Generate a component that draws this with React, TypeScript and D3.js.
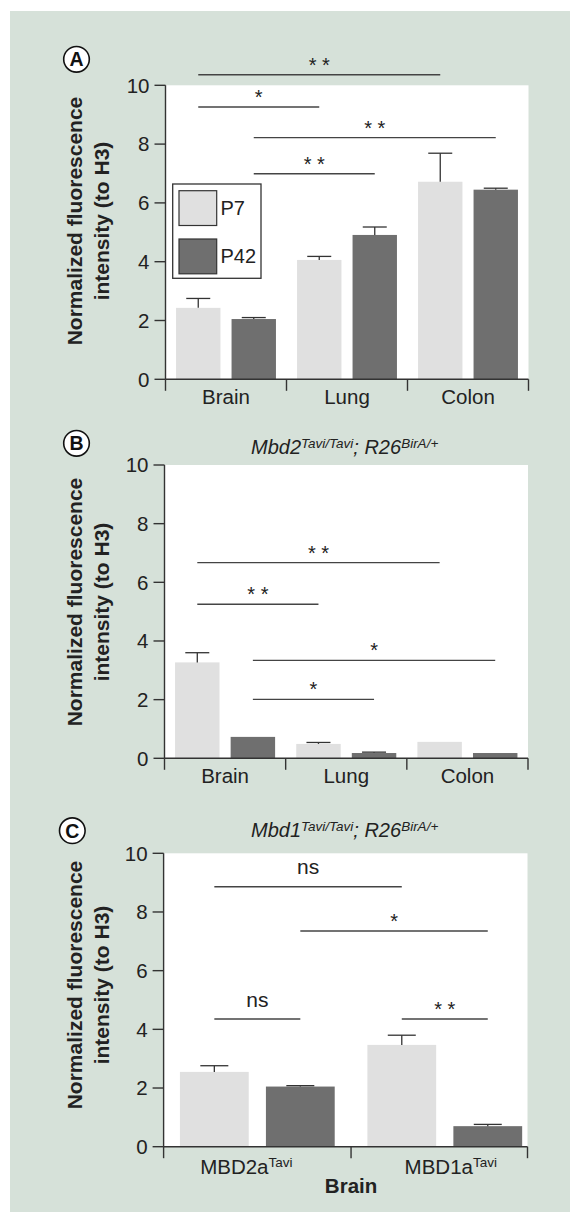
import React from "react";
import * as d3 from "d3";

// ---------- data ----------
const tickValues = [0, 2, 4, 6, 8, 10];
const seriesNames = ["P7", "P42"];

const catsA = ["Brain", "Lung", "Colon"];
const p7A = [2.43, 4.06, 6.72];
const p7ErrA = [0.32, 0.12, 0.97];
const p42A = [2.05, 4.91, 6.45];
const p42ErrA = [0.05, 0.27, 0.05];

const catsB = ["Brain", "Lung", "Colon"];
const p7B = [3.27, 0.49, 0.56];
const p7ErrB = [0.33, 0.05, 0];
const p42B = [0.73, 0.18, 0.18];
const p42ErrB = [0, 0.03, 0];

const catsC = ["MBD2a", "MBD1a"];
const catSupC = "Tavi";
const p7C = [2.55, 3.47];
const p7ErrC = [0.21, 0.33];
const p42C = [2.05, 0.7];
const p42ErrC = [0.03, 0.06];

// significance brackets: from [group, series] to [group, series] at value level
const sigA = [
  { a: [0, 0], b: [2, 0], level: 10.36, label: "* *" },
  { a: [0, 0], b: [1, 0], level: 9.26, label: "*" },
  { a: [0, 1], b: [2, 1], level: 8.22, label: "* *" },
  { a: [0, 1], b: [1, 1], level: 6.99, label: "* *" },
];
const sigB = [
  { a: [0, 0], b: [2, 0], level: 6.67, label: "* *" },
  { a: [0, 0], b: [1, 0], level: 5.25, label: "* *" },
  { a: [0, 1], b: [2, 1], level: 3.34, label: "*" },
  { a: [0, 1], b: [1, 1], level: 2.01, label: "*" },
];
const sigC = [
  { a: [0, 0], b: [1, 0], level: 8.86, label: "ns" },
  { a: [0, 1], b: [1, 1], level: 7.35, label: "*" },
  { a: [0, 0], b: [0, 1], level: 4.35, label: "ns" },
  { a: [1, 0], b: [1, 1], level: 4.35, label: "* *" },
];

const titleB = { gene: "Mbd2", geneSup: "Tavi/Tavi", rest: "; R26", restSup: "BirA/+" };
const titleC = { gene: "Mbd1", geneSup: "Tavi/Tavi", rest: "; R26", restSup: "BirA/+" };
const xTitleC = "Brain";
const yTitleLines = ["Normalized fluorescence", "intensity (to H3)"];

// ---------- style ----------
const FONT = "'Liberation Sans', Arial, Helvetica, sans-serif";
const BG = "#d6e1d9";
const COL_P7 = "#e0e0e0";
const COL_P42 = "#6f6f6f";
const INK = "#222";
const AXIS = "#333";
const SIGLINE = "#444";

type Sig = { a: number[]; b: number[]; level: number; label: string };

function Panel(props: any) {
  const {
    x0, xEnd, bandEnd, yTopPx, yZeroPx, cats, sup, p7, p7Err, p42, p42Err, sigs,
    capW, circle, yTitleCenter, title, catDy, catOffsets, xTitle, legend,
  } = props;

  const y = d3.scaleLinear().domain([0, 10]).range([yZeroPx, yTopPx]);
  const xg = d3.scaleBand<number>().domain(d3.range(cats.length)).range([x0, bandEnd]).paddingInner(0).paddingOuter(0);
  const xs = d3.scaleBand<number>().domain([0, 1]).range([0, xg.bandwidth()]).paddingInner(0.2).paddingOuter(0.19);

  const vals = [p7, p42];
  const errs = [p7Err, p42Err];
  const cols = [COL_P7, COL_P42];
  const barCenter = (g: number, s: number) => (xg(g) as number) + (xs(s) as number) + xs.bandwidth() / 2;

  const xTicks = [...d3.range(cats.length).map((g) => xg(g) as number), xEnd];

  return (
    <g>
      {/* plot area */}
      <rect x={x0} y={yTopPx} width={xEnd - x0} height={yZeroPx - yTopPx} fill="#fff" />
      {/* bars */}
      {cats.map((c: string, g: number) =>
        [0, 1].map((s) => {
          const v = vals[s][g];
          const bx = (xg(g) as number) + (xs(s) as number);
          return (
            <rect key={`b${g}-${s}`} x={bx} y={y(v)} width={xs.bandwidth()} height={y(0) - y(v)} fill={cols[s]} />
          );
        })
      )}
      {/* error bars */}
      {cats.map((c: string, g: number) =>
        [0, 1].map((s) => {
          const v = vals[s][g];
          const e = errs[s][g];
          if (!e) return null;
          const cx = barCenter(g, s);
          return (
            <g key={`e${g}-${s}`} stroke={AXIS} strokeWidth={1.3}>
              <line x1={cx} x2={cx} y1={y(v)} y2={y(v + e)} />
              <line x1={cx - capW / 2} x2={cx + capW / 2} y1={y(v + e)} y2={y(v + e)} />
            </g>
          );
        })
      )}
      {/* y axis */}
      <line x1={x0} x2={x0} y1={yTopPx} y2={yZeroPx} stroke={AXIS} strokeWidth={1.4} />
      {tickValues.map((t) => (
        <g key={`yt${t}`}>
          <line x1={x0 - 11} x2={x0} y1={y(t)} y2={y(t)} stroke={AXIS} strokeWidth={1.4} />
          <text x={x0 - 16} y={y(t)} dy="0.36em" textAnchor="end" fontSize={20.5} fill={INK} fontFamily={FONT}>
            {t}
          </text>
        </g>
      ))}
      {/* x axis */}
      <line x1={x0} x2={xEnd} y1={yZeroPx} y2={yZeroPx} stroke={AXIS} strokeWidth={1.4} />
      {xTicks.map((t, i) => (
        <line key={`xt${i}`} x1={t} x2={t} y1={yZeroPx} y2={yZeroPx + 11.5} stroke={AXIS} strokeWidth={1.4} />
      ))}
      {cats.map((c: string, g: number) => (
        <text
          key={`cl${g}`}
          x={(xg(g) as number) + xg.bandwidth() / 2 + (catOffsets ? catOffsets[g] : 0)}
          y={yZeroPx + catDy}
          textAnchor="middle"
          fontSize={20.5}
          fill={INK}
          fontFamily={FONT}
        >
          {c}
          {sup ? (
            <tspan fontSize={13.5} dy={-7}>
              {sup}
            </tspan>
          ) : null}
        </text>
      ))}
      {xTitle ? (
        <text x={xg(1) as number} y={yZeroPx + 46.5} textAnchor="middle" fontSize={20.5} fontWeight="bold" fill={INK} fontFamily={FONT}>
          {xTitle}
        </text>
      ) : null}
      {/* y title */}
      <g transform={`translate(81.5, ${yTitleCenter}) rotate(-90)`}>
        <text textAnchor="middle" fontSize={21} fontWeight="bold" fill={INK} fontFamily={FONT}>
          {yTitleLines[0]}
        </text>
      </g>
      <g transform={`translate(108.5, ${yTitleCenter}) rotate(-90)`}>
        <text textAnchor="middle" fontSize={21} fontWeight="bold" fill={INK} fontFamily={FONT}>
          {yTitleLines[1]}
        </text>
      </g>
      {/* significance */}
      {sigs.map((sg: Sig, i: number) => {
        const xa = barCenter(sg.a[0], sg.a[1]);
        const xb = barCenter(sg.b[0], sg.b[1]);
        const ly = y(sg.level);
        const isNs = sg.label === "ns";
        return (
          <g key={`s${i}`}>
            <line x1={xa} x2={xb} y1={ly} y2={ly} stroke={SIGLINE} strokeWidth={1.4} />
            <text
              x={(xa + xb) / 2}
              y={isNs ? ly - 12.5 : ly - 14.5 + 0.58 * 20}
              textAnchor="middle"
              fontSize={isNs ? 21 : 20}
              fill={INK}
              fontFamily={FONT}
              xmlSpace="preserve"
            >
              {sg.label}
            </text>
          </g>
        );
      })}
      {/* panel letter */}
      <circle cx={circle.cx} cy={circle.cy} r={12.8} fill="#fff" stroke="#111" strokeWidth={1.6} />
      <text x={circle.cx} y={circle.cy + 7} textAnchor="middle" fontSize={19.5} fontWeight="bold" fill="#111" fontFamily={FONT}>
        {circle.letter}
      </text>
      {/* title */}
      {title ? (
        <text x={251} y={title.y} fontSize={20} fontStyle="italic" fill={INK} fontFamily={FONT}>
          <tspan>{title.t.gene}</tspan>
          <tspan fontSize={13.5} dy={-6}>{title.t.geneSup}</tspan>
          <tspan dy={6}>{title.t.rest}</tspan>
          <tspan fontSize={13.5} dy={-6}>{title.t.restSup}</tspan>
        </text>
      ) : null}
      {/* legend */}
      {legend ? (
        <g>
          <rect x={172.7} y={184} width={88.3} height={94.3} fill="#fff" stroke={AXIS} strokeWidth={1.3} />
          {seriesNames.map((n, i) => (
            <g key={n}>
              <rect x={179} y={190.7 + i * 48.3} width={37.7} height={34.8} fill={cols[i]} stroke={AXIS} strokeWidth={1.2} />
              <text x={220.5} y={215 + i * 48.3} fontSize={20} fill={INK} fontFamily={FONT}>
                {n}
              </text>
            </g>
          ))}
        </g>
      ) : null}
    </g>
  );
}

export default function App() {
  return (
    <svg width={570} height={1212} style={{ position: "absolute", left: 0, top: 0, display: "block" }}>
      <rect x={0} y={0} width={570} height={1212} fill="#fff" />
      <rect x={10} y={11} width={560} height={1201} fill={BG} />
      <Panel
        x0={165.5} xEnd={528.5} bandEnd={528.5} yTopPx={85.3} yZeroPx={379.3}
        cats={catsA} p7={p7A} p7Err={p7ErrA} p42={p42A} p42Err={p42ErrA} sigs={sigA}
        capW={24} circle={{ cx: 76.5, cy: 59.3, letter: "A" }} yTitleCenter={221}
        catDy={25} legend
      />
      <Panel
        x0={164.5} xEnd={528} bandEnd={528} yTopPx={465} yZeroPx={758.3}
        cats={catsB} p7={p7B} p7Err={p7ErrB} p42={p42B} p42Err={p42ErrB} sigs={sigB}
        capW={24} circle={{ cx: 76.5, cy: 443.3, letter: "B" }} yTitleCenter={602}
        catDy={25} title={{ y: 454, t: titleB }}
      />
      <Panel
        x0={163.6} xEnd={527.5} bandEnd={538.5} yTopPx={853.3} yZeroPx={1146.7}
        cats={catsC} sup={catSupC} p7={p7C} p7Err={p7ErrC} p42={p42C} p42Err={p42ErrC} sigs={sigC}
        capW={28} circle={{ cx: 72.3, cy: 830.7, letter: "C" }} yTitleCenter={985}
        catDy={27} catOffsets={[-11, 6]} xTitle={xTitleC} title={{ y: 837, t: titleC }}
      />
    </svg>
  );
}
